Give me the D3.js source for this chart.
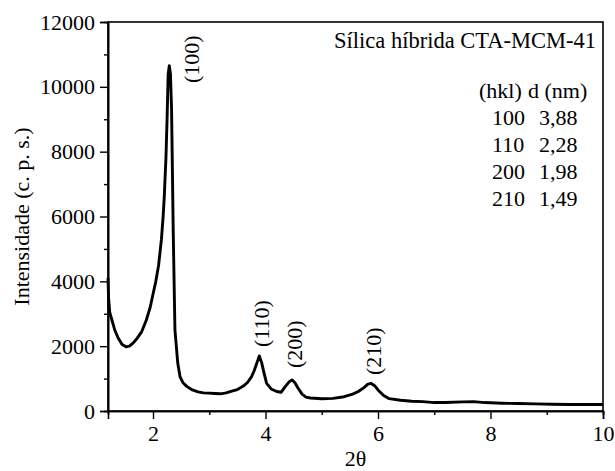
<!DOCTYPE html>
<html>
<head>
<meta charset="utf-8">
<script src="https://cdn.jsdelivr.net/npm/d3@7"></script>
</head>
<body style="margin:0;background:#fff">
<svg id="chart" width="615" height="471" style="display:block"></svg>
<script>
// ---- data ----
const twoTheta = [1.20,1.21,1.23,1.27,1.32,1.38,1.45,1.52,1.58,1.65,1.72,1.80,1.88,1.95,2.00,2.05,2.10,2.15,2.18,2.20,2.23,2.25,2.27,2.29,2.31,2.33,2.36,2.39,2.44,2.48,2.53,2.60,2.70,2.80,2.90,3.00,3.10,3.20,3.30,3.40,3.50,3.60,3.68,3.75,3.80,3.85,3.89,3.93,3.97,4.02,4.10,4.20,4.28,4.35,4.42,4.47,4.52,4.58,4.65,4.72,4.80,5.00,5.20,5.40,5.55,5.65,5.75,5.82,5.88,5.94,6.00,6.10,6.20,6.40,6.60,6.80,7.00,7.20,7.50,7.70,7.90,8.20,8.50,8.80,9.10,9.40,9.70,10.00];
const intensity = [4100,3500,3050,2800,2500,2250,2050,1980,2000,2100,2250,2450,2800,3200,3600,4000,4500,5300,6000,6600,7800,9000,10400,10650,10400,9300,5500,2500,1480,1060,880,760,650,590,560,550,540,530,560,610,660,760,880,1050,1250,1500,1700,1500,1200,850,680,600,580,750,900,960,880,700,520,430,400,380,390,440,520,600,720,830,850,780,650,480,380,330,300,290,260,260,280,290,260,240,230,220,210,200,200,200];

const xTicks = [2, 4, 6, 8, 10];
const xMinorTicks = [3, 5, 7, 9];
const yTicks = [0, 2000, 4000, 6000, 8000, 10000, 12000];
const yMinorTicks = [1000, 3000, 5000, 7000, 9000, 11000];

const peakLabels = ["(100)", "(110)", "(200)", "(210)"];
const peakLabelX = [2.69, 3.93, 4.52, 5.92];
const peakLabelY = [10117, 1974, 1326, 1110];

const legendTitle = "Sílica híbrida CTA-MCM-41";
const tableHeader = ["(hkl)", "d (nm)"];
const hklValues = ["100", "110", "200", "210"];
const dValues = ["3,88", "2,28", "1,98", "1,49"];

const xTitle = "2θ";
const yTitle = "Intensidade (c. p. s.)";

// ---- layout ----
const L = 108, R = 603, T = 22, B = 411;
const fs = 22;
const FONT = "'Liberation Serif'";

const svg = d3.select("#chart");
const x = d3.scaleLinear().domain([1.2, 10]).range([L, R]);
const y = d3.scaleLinear().domain([0, 12000]).range([B, T]);

// curve
const line = d3.line().x((d, i) => x(twoTheta[i])).y(d => y(d));
svg.append("path")
  .datum(intensity)
  .attr("d", line)
  .attr("fill", "none")
  .attr("stroke", "#000")
  .attr("stroke-width", 2.9)
  .attr("stroke-linejoin", "round");

// frame
svg.append("rect")
  .attr("x", L).attr("y", T).attr("width", R - L).attr("height", B - T)
  .attr("fill", "none").attr("stroke", "#000").attr("stroke-width", 1.6);

// axes
const xAxis = svg.append("g").attr("transform", `translate(0,${B})`)
  .call(d3.axisBottom(x).tickValues(xTicks).tickSize(8).tickPadding(6).tickFormat(d3.format("d")));
const xMinor = svg.append("g").attr("transform", `translate(0,${B})`)
  .call(d3.axisBottom(x).tickValues(xMinorTicks).tickSize(4).tickFormat(""));
const yAxis = svg.append("g").attr("transform", `translate(${L},0)`)
  .call(d3.axisLeft(y).tickValues(yTicks).tickSize(8).tickPadding(5).tickFormat(d3.format("d")));
const yMinor = svg.append("g").attr("transform", `translate(${L},0)`)
  .call(d3.axisLeft(y).tickValues(yMinorTicks).tickSize(4).tickFormat(""));

[xAxis, xMinor, yAxis, yMinor].forEach(g => {
  g.select(".domain").attr("stroke", "#000").attr("stroke-width", 1.6);
  g.selectAll(".tick line").attr("stroke", "#000").attr("stroke-width", 1.4);
  g.selectAll("text").attr("font-size", fs).attr("fill", "#000").style("font-family", FONT);
});

function txt(sel) { return sel.append("text").style("font-family", FONT).attr("fill", "#000"); }

// axis titles
txt(svg).attr("x", (L + R) / 2).attr("y", 466)
  .attr("text-anchor", "middle").attr("font-size", fs).text(xTitle);
txt(svg).attr("transform", `translate(29,${(T + B) / 2}) rotate(-90)`)
  .attr("text-anchor", "middle").attr("font-size", fs).text(yTitle);

// peak labels
peakLabels.forEach((t, i) => {
  txt(svg)
    .attr("transform", `translate(${x(peakLabelX[i])},${y(peakLabelY[i])}) rotate(-90)`)
    .attr("text-anchor", "start").attr("dominant-baseline", "central")
    .attr("font-size", fs).text(t);
});

// legend
txt(svg).attr("x", 596).attr("y", 48).attr("text-anchor", "end")
  .attr("font-size", 22.5).text(legendTitle);
txt(svg).attr("x", 479).attr("y", 98).attr("font-size", fs).text(tableHeader[0]);
txt(svg).attr("x", 528).attr("y", 98).attr("font-size", fs).text(tableHeader[1]);
hklValues.forEach((h, i) => {
  txt(svg).attr("x", 492).attr("y", 125 + i * 27).attr("font-size", fs).text(h);
  txt(svg).attr("x", 539).attr("y", 125 + i * 27).attr("font-size", fs).text(dValues[i]);
});
</script>
</body>
</html>
